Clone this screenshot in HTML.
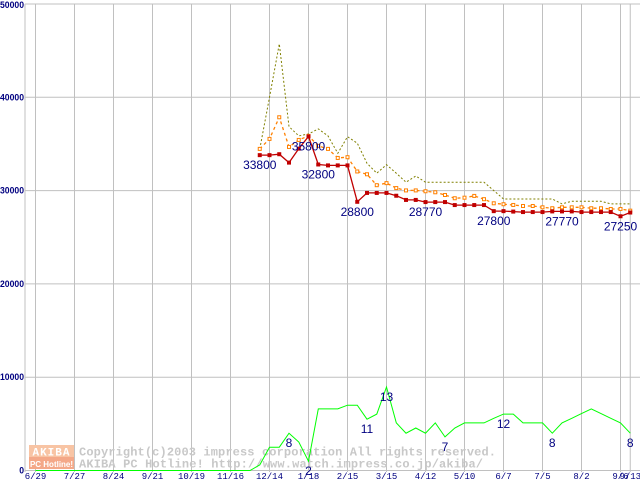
<!DOCTYPE html>
<html><head><meta charset="utf-8"><style>
html,body{margin:0;padding:0;background:#fff;}
svg{display:block;}
</style></head><body>
<svg id="chart" width="640" height="480" xmlns="http://www.w3.org/2000/svg" font-family="Liberation Sans, sans-serif">
<g id="grid"></g>
<g id="watermark">
  <rect x="29" y="445" width="45" height="12" fill="#f8c4a4"/>
  <rect x="29" y="457" width="45" height="12" fill="#f4a888"/>
  <text x="51.5" y="455.5" font-size="11" font-weight="bold" fill="#fff" text-anchor="middle" font-family="Liberation Mono, monospace" letter-spacing="1">AKIBA</text>
  <text x="51.5" y="467" font-size="8" font-weight="bold" fill="#fff" text-anchor="middle">PC Hotline!</text>
  <text x="79" y="455.5" font-size="12" font-weight="bold" fill="#c8c8c8" font-family="Liberation Mono, monospace" textLength="417">Copyright(c)2003 impress corporation All rights reserved.</text>
  <text x="79" y="467.5" font-size="12" font-weight="bold" fill="#c8c8c8" font-family="Liberation Mono, monospace" textLength="404">AKIBA PC Hotline!  http://www.watch.impress.co.jp/akiba/</text>
</g>
<g id="series"></g>
<g id="labels"></g>
</svg>
<script>
const xTickLabels = ["6/29","7/27","8/24","9/21","10/19","11/16","12/14","1/18","2/15","3/15","4/12","5/10","6/7","7/5","8/2","9/6","9/13"];
const xTickIdx = [0,4,8,12,16,20,24,28,32,36,40,44,48,52,56,60,61];
const yTicks = [0,10000,20000,30000,40000,50000];
const startIdx = 23;
const minPrice = [33800,33800,33900,33000,34500,35800,32800,32700,32700,32700,28800,29750,29750,29750,29450,29000,29000,28770,28770,28770,28450,28450,28450,28450,27800,27800,27750,27700,27700,27700,27770,27770,27770,27700,27700,27700,27700,27250,27650];
const avgPrice = [34470,35540,37860,34680,35430,35860,34790,34470,33500,33580,32050,31750,30580,30800,30270,30020,30020,29930,29820,29530,29180,29240,29430,29080,28640,28540,28460,28350,28350,28210,28110,28210,28210,28210,28110,28110,28030,28030,27850];
const maxPrice = [34470,40000,45720,36860,35860,36070,36610,35860,34000,35780,35080,32930,31860,32780,31860,30900,31570,30900,30900,30900,30900,30900,30900,30900,30000,29100,29100,29100,29100,29100,29100,28570,28860,28860,28860,28860,28570,28570,28570];
const shopLevel = [0,0,0,0,0,0,0,0,0,0,0,0,0,0,0,0,0,0,0,0,0,0,0,600,2500,2500,4000,3050,1000,6600,6600,6600,7000,7000,5500,6050,8950,5100,4000,4550,4000,5100,3600,4550,5100,5100,5100,5600,6050,6050,5100,5100,5100,4000,5100,5600,6100,6600,6100,5600,5100,4000];
const shopLabelIdx = [26,28,34,36,42,48,53,61];
const shopLabelText = ["8","2","11","13","7","12","8","8"];
const priceLabelIdx = [23,28,29,33,40,47,54,60];
const priceLabelText = ["33800","35800","32800","28800","28770","27800","27770","27250"];

const NS="http://www.w3.org/2000/svg";
function X(i){return 35.5+9.75*i;}
function Y(v){return 470.5-v*0.00933;}
function mk(tag,attrs,parent){const e=document.createElementNS(NS,tag);for(const k in attrs)e.setAttribute(k,attrs[k]);parent.appendChild(e);return e;}
const grid=document.getElementById('grid'),ser=document.getElementById('series'),lab=document.getElementById('labels');

yTicks.forEach((v,k)=>{
  const l=mk('line',{x1:25,x2:640,y1:Y(v),y2:Y(v),stroke:'#c0c0c0','stroke-width':1},grid);
  
  
  const s=String(v);
  const t=mk('text',{x:24,y:Y(v)+(k==5?4:3),'font-size':9,'font-weight':'bold',fill:'#000080','text-anchor':'end',textLength:(s.length*4.8).toFixed(1),lengthAdjust:'spacingAndGlyphs'},grid);
  t.textContent=s;
  
  
});
const ax=mk('line',{x1:25,x2:25,y1:4,y2:472,stroke:'#c0c0c0','stroke-width':1},grid);


xTickIdx.forEach((ix,k)=>{
  const l=mk('line',{x1:X(ix),x2:X(ix),y1:4,y2:472,stroke:'#c0c0c0','stroke-width':1},grid);
  
  
  const t=mk('text',{x:X(ix),y:479,'font-size':9,fill:'#000080','text-anchor':'middle','font-family':'Liberation Mono, monospace'},grid);
  t.textContent=xTickLabels[k];
  
  
});

function pts(arr,off){return arr.map((v,i)=>X(i+off).toFixed(1)+','+Y(v).toFixed(1)).join(' ');}
const g=mk('polyline',{points:pts(shopLevel,0),fill:'none',stroke:'#00ff00','stroke-width':1},ser);


const mx=mk('polyline',{points:pts(maxPrice,startIdx),fill:'none',stroke:'#808000','stroke-width':1,'stroke-dasharray':'2,2'},ser);


const av=mk('polyline',{points:pts(avgPrice,startIdx),fill:'none',stroke:'#ff8000','stroke-width':1.3,'stroke-dasharray':'3,3'},ser);


avgPrice.forEach((v,i)=>{
  const r=mk('rect',{x:X(i+startIdx)-1.5,y:Y(v)-1.5,width:3,height:3,fill:'#fff',stroke:'#ff8000','stroke-width':1},ser);
  
  
});
const mn=mk('polyline',{points:pts(minPrice,startIdx),fill:'none',stroke:'#c00000','stroke-width':1.3},ser);


minPrice.forEach((v,i)=>{
  const r=mk('rect',{x:X(i+startIdx)-2,y:Y(v)-2,width:4,height:4,fill:'#c00000'},ser);
  
  
});
priceLabelIdx.forEach((ix,k)=>{
  const v=minPrice[ix-startIdx];
  const t=mk('text',{x:X(ix),y:Y(v)+14,'font-size':12,fill:'#000080','text-anchor':'middle'},lab);
  t.textContent=priceLabelText[k];
  
  
});
shopLabelIdx.forEach((ix,k)=>{
  const v=shopLevel[ix];
  const t=mk('text',{x:X(ix),y:Y(v)+14,'font-size':12,fill:'#000080','text-anchor':'middle'},lab);
  t.textContent=shopLabelText[k];
  
  
});
</script>
</body></html>
